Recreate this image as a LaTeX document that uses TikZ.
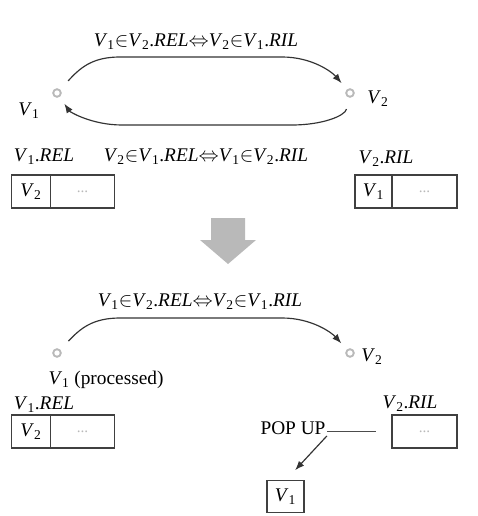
\documentclass[tikz,border=0pt]{standalone}
\usepackage{fontspec}
\setmainfont{Liberation Serif}
\usetikzlibrary{arrows.meta}

% italic vertex names and list names set in the text face
\newcommand{\vx}[1]{\textit{V}\textsubscript{#1}}
\newcommand{\lst}[2]{\vx{#1}.\textit{#2}}
\newcommand{\memb}{$\in$}
\newcommand{\equivto}{$\Leftrightarrow$}

\begin{document}
\begin{tikzpicture}[
  x=0.03cm, y=-0.03cm,
  vert/.style={circle, draw=gray!55, line width=1.6pt, inner sep=0pt, minimum size=6.5pt},
  lbl/.style={font=\fontsize{16.5}{18}\selectfont, inner sep=1pt},
  cellb/.style={draw=black!75, line width=1pt, minimum height=0.99cm, inner sep=0pt,
                outer sep=0pt, font=\fontsize{16.5}{18}\selectfont},
  dotsb/.style={cellb, font=\fontsize{13}{13}\selectfont, text=gray!55},
  link/.style={-{Latex[length=8pt, width=6pt]}, line width=1pt, black!80},
  plain/.style={line width=1pt, black!70},
]
\useasboundingbox (0,0) rectangle (477,516);

% Before: two vertices with both relations
\node[vert] (va) at (57, 93) {};
\node[vert] (vb) at (350, 93) {};
\node[lbl] (va_l) at (29, 111) {\vx1};
\node[lbl] (vb_l) at (378, 99) {\vx2};

\node[lbl] (top_l) at (196, 42)
  {\vx1\memb\lst2{REL}\equivto\vx2\memb\lst1{RIL}};
\node[lbl] (mid_l) at (206, 157)
  {\vx2\memb\lst1{REL}\equivto\vx1\memb\lst2{RIL}};

\draw[link, shorten <=10pt, shorten >=7pt]
  (va) .. controls (80, 68) and (92, 57) .. (120, 57) -- (282, 57)
       .. controls (312, 57) and (332, 72) .. (vb);
\draw[link, shorten <=10pt, shorten >=7pt]
  (vb) .. controls (345, 116) and (322, 125) .. (292, 125) -- (122, 125)
       .. controls (92, 125) and (70, 112) .. (va);

% Lists under the vertices
\node[lbl] (rel_a) at (44, 157) {\lst1{REL}};
\node[cellb, minimum width=1.17cm] (ra1) at (31, 191.5) {\vx2};
\node[dotsb, minimum width=1.92cm, anchor=west] (ra2) at (ra1.east) {...};

\node[lbl] (ril_b) at (386, 159) {\lst2{RIL}};
\node[cellb, minimum width=1.11cm] (rb1) at (373.5, 191.5) {\vx1};
\node[dotsb, minimum width=1.95cm, anchor=west] (rb2) at (rb1.east) {...};

% Step arrow
\fill[gray!55] (211, 218) -- (245, 218) -- (245, 240) -- (256, 240)
  -- (228, 264) -- (200, 240) -- (211, 240) -- cycle;

% After: V1 processed
\node[vert] (vc) at (57, 353) {};
\node[vert] (vd) at (350, 353) {};
\node[lbl] (vd_l) at (372, 357) {\vx2};
\node[lbl] (vc_l) at (106, 380) {\vx1 (processed)};

\node[lbl] (bot_l) at (200, 302)
  {\vx1\memb\lst2{REL}\equivto\vx2\memb\lst1{RIL}};

\draw[link, shorten <=10pt, shorten >=7pt]
  (vc) .. controls (80, 329) and (92, 318) .. (120, 318) -- (282, 318)
       .. controls (312, 318) and (332, 333) .. (vd);

\node[lbl] (rel_c) at (44, 405) {\lst1{REL}};
\node[cellb, minimum width=1.17cm] (rc1) at (31, 431.5) {\vx2};
\node[dotsb, minimum width=1.92cm, anchor=west] (rc2) at (rc1.east) {...};

\node[lbl] (ril_d) at (410, 404) {\lst2{RIL}};
\node[dotsb, minimum width=1.95cm] (rd) at (424.5, 431.5) {...};

% Popped entry
\node[lbl] (pop) at (293, 428) {POP UP};
\node[cellb, minimum width=1.11cm, minimum height=0.96cm] (pv) at (285.5, 496.5) {\vx1};

\draw[plain, shorten <=14pt] (rd.west) -- (pop.east |- rd.west);
\draw[link, shorten >=12pt] (pop.south east) -- (pv.north);
\end{tikzpicture}
\end{document}
